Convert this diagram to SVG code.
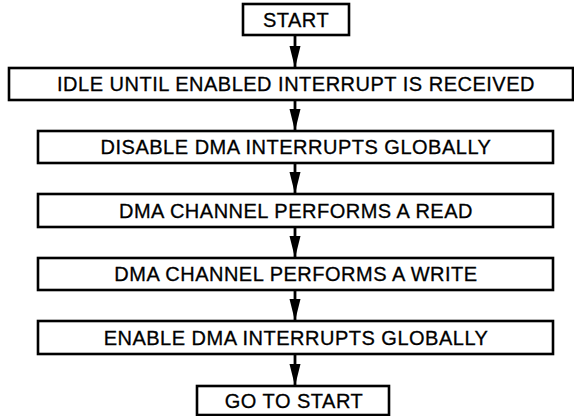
<svg xmlns="http://www.w3.org/2000/svg" width="574" height="416" viewBox="0 0 574 416">
<style>
.box{fill:#fff;stroke:#000;stroke-width:2.6}
.t{font-family:"Liberation Sans",Arial,sans-serif;font-size:20px;letter-spacing:0.5px;fill:#000;stroke:#000;stroke-width:0.3;text-anchor:middle}
.c{stroke:#000;stroke-width:2.8;fill:none}
</style>
<defs>
<marker id="ah" markerUnits="userSpaceOnUse" markerWidth="22" markerHeight="12" refX="22" refY="6" orient="auto" viewBox="0 0 22 12">
<path d="M0,0.5 L22,6 L0,11.5 Z" fill="#000"/>
</marker>
</defs>
<rect width="574" height="416" fill="#fff"/>
<g id="connectors">
<line class="c" x1="295" y1="35" x2="295" y2="68" marker-end="url(#ah)"/>
<line class="c" x1="295" y1="100" x2="295" y2="131" marker-end="url(#ah)"/>
<line class="c" x1="295" y1="163" x2="295" y2="194" marker-end="url(#ah)"/>
<line class="c" x1="295" y1="227" x2="295" y2="258" marker-end="url(#ah)"/>
<line class="c" x1="295" y1="290" x2="295" y2="321" marker-end="url(#ah)"/>
<line class="c" x1="295" y1="354" x2="295" y2="386" marker-end="url(#ah)"/>
</g>
<g id="start">
<rect class="box" x="243" y="4" width="106" height="31"/>
<text class="t" x="296" y="27">START</text>
</g>
<g id="idle">
<rect class="box" x="9" y="68" width="564" height="32"/>
<text class="t" x="296" y="91">IDLE UNTIL ENABLED INTERRUPT IS RECEIVED</text>
</g>
<g id="disable">
<rect class="box" x="38" y="131" width="515" height="32"/>
<text class="t" x="296" y="154">DISABLE DMA INTERRUPTS GLOBALLY</text>
</g>
<g id="read">
<rect class="box" x="38" y="194" width="515" height="33"/>
<text class="t" x="296" y="218">DMA CHANNEL PERFORMS A READ</text>
</g>
<g id="write">
<rect class="box" x="38" y="258" width="515" height="32"/>
<text class="t" x="296" y="281">DMA CHANNEL PERFORMS A WRITE</text>
</g>
<g id="enable">
<rect class="box" x="38" y="321" width="515" height="33"/>
<text class="t" x="296" y="345">ENABLE DMA INTERRUPTS GLOBALLY</text>
</g>
<g id="goto">
<rect class="box" x="197" y="386" width="192" height="29"/>
<text class="t" x="294" y="408">GO TO START</text>
</g>
</svg>
